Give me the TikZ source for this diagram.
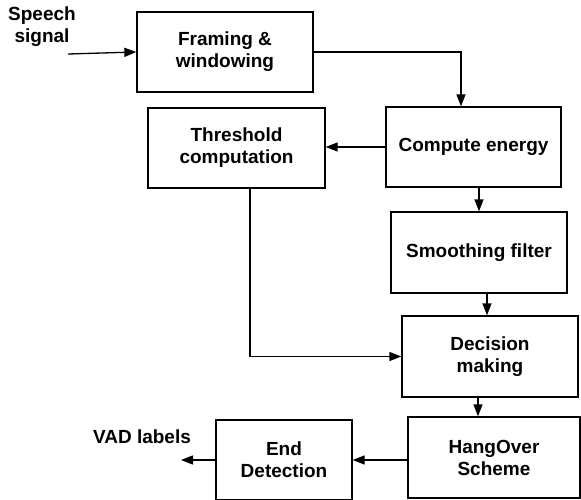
\documentclass[tikz,border=0pt]{standalone}
\usepackage{fontspec}
\setmainfont{Liberation Sans}
\usetikzlibrary{arrows.meta}
\begin{document}
\begin{tikzpicture}[x=1pt,y=-1pt,
  every node/.style={font=\fontsize{19}{22}\selectfont\bfseries, align=center},
  block/.style={draw, line width=1.3pt, minimum height=80pt, inner sep=0pt},
  arr/.style={line width=1.3pt, -{Triangle[length=12pt,width=9pt]}},
  lbl/.style={inner sep=0pt}]
\useasboundingbox (0,0) rectangle (581,500);

% processing blocks
\node[block, minimum width=176pt] (framing)   at (225,52)    {Framing \&\\windowing};
\node[block, minimum width=175pt] (compute)   at (473.5,147) {Compute energy};
\node[block, minimum width=177pt] (threshold) at (236.5,148) {Threshold\\computation};
\node[block, minimum width=176pt, minimum height=81pt] (smoothing) at (479,252.5) {Smoothing filter};
\node[block, minimum width=176pt, minimum height=81pt] (decision)  at (490,356.5) {Decision\\making};
\node[block, minimum width=172pt, minimum height=81pt] (hangover)  at (494,457.5) {HangOver\\Scheme};
\node[block, minimum width=136pt] (enddet)    at (284,460)   {End\\Detection};

% input and output labels
\node[lbl] (speech) at (42,27) {Speech\\signal};
\node[lbl] (vad) at (142,437) {VAD labels};
\coordinate (speechin) at (68,54);
\coordinate (vadout) at (181,460);

% connectors
\draw[arr] (speechin) -- (framing.west);
\draw[arr] (framing.east) -| ([xshift=-12.5]compute.north);
\draw[arr] (compute.west) -- (compute.west -| threshold.east);
\draw[arr] (smoothing.north |- compute.south) -- (smoothing.north);
\draw[arr] ([xshift=8]smoothing.south) -- ([xshift=8]smoothing.south |- decision.north);
\draw[arr] ([xshift=13.5]threshold.south) |- (decision.west);
\draw[arr] ([xshift=-12]decision.south) -- ([xshift=-12]decision.south |- hangover.north);
\draw[arr] (hangover.west |- enddet.east) -- (enddet.east);
\draw[arr] (enddet.west) -- (vadout);
\end{tikzpicture}
\end{document}
